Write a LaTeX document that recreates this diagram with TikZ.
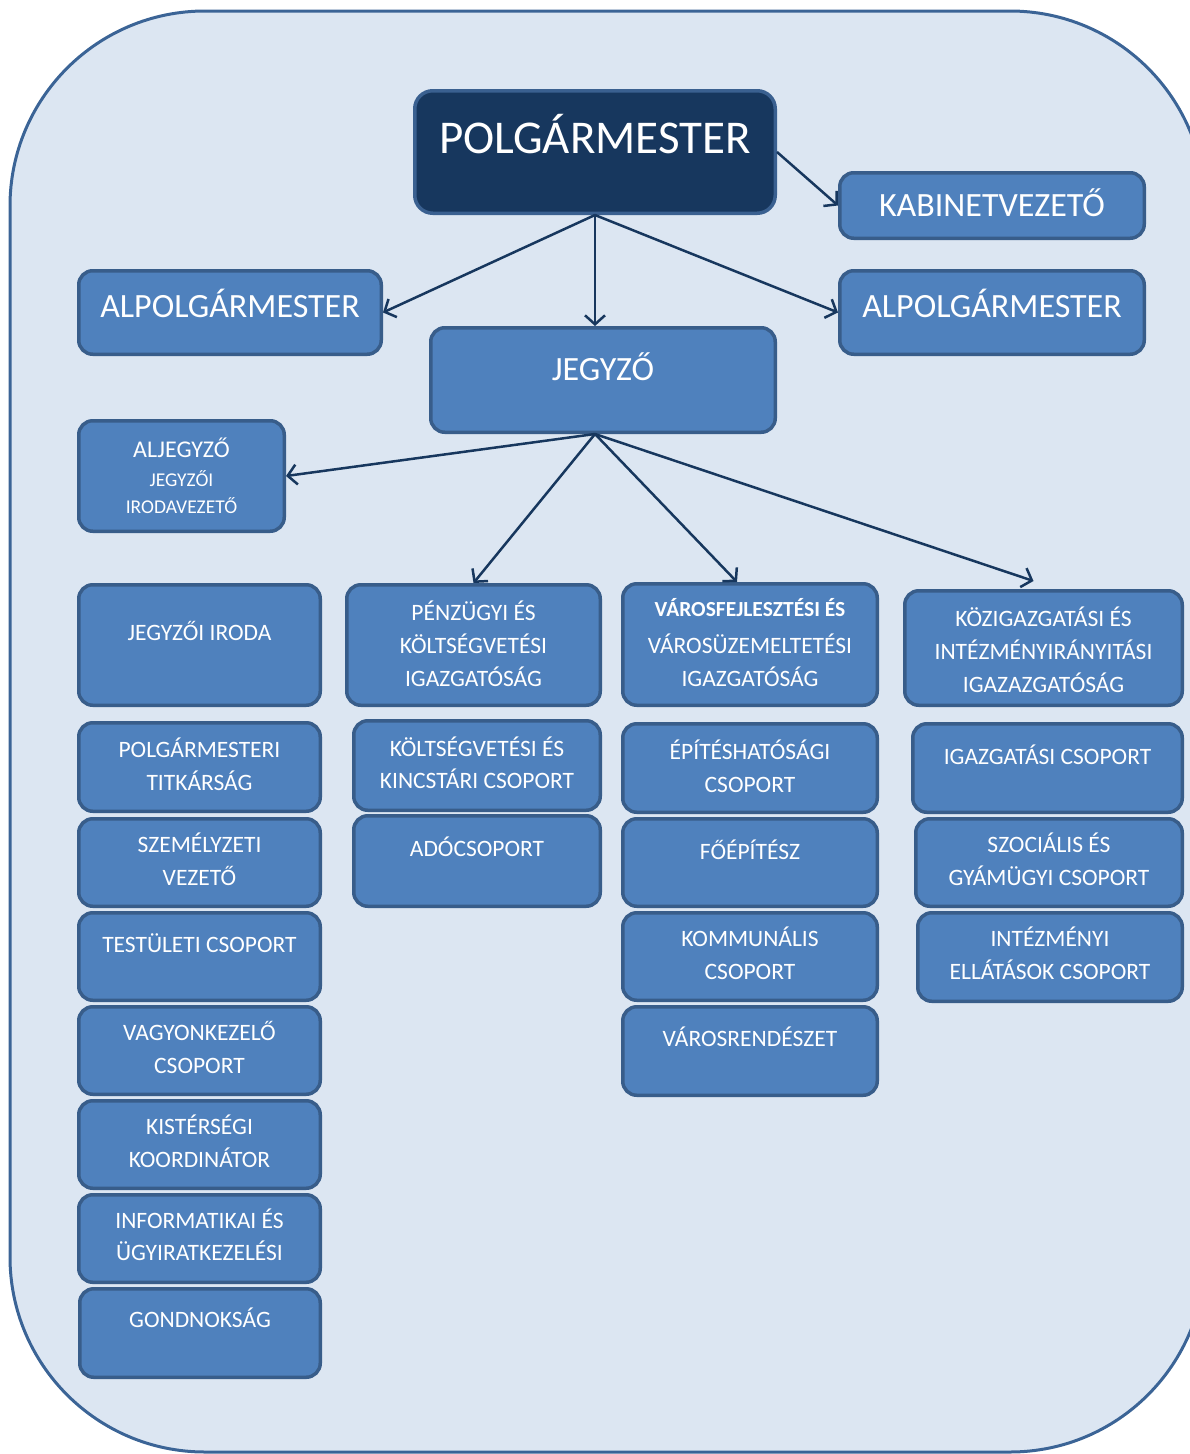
\documentclass[tikz,border=0pt]{standalone}
\usepackage{fontspec}
\setmainfont{Carlito}
\usetikzlibrary{arrows.meta}
\definecolor{bgfill}{HTML}{DCE6F2}
\definecolor{bgline}{HTML}{3B6496}
\definecolor{boxfill}{HTML}{4F81BD}
\definecolor{boxline}{HTML}{385D8A}
\definecolor{bossfill}{HTML}{17375E}
\definecolor{bossline}{HTML}{3A6090}
\definecolor{arrowc}{HTML}{17375E}
\newcommand\fsHuge{\fontsize{47}{50}\selectfont}
\newcommand\fsBig{\fontsize{34}{38}\selectfont}
\newcommand\fsMid{\fontsize{24}{28}\selectfont}
\newcommand\fsSmall{\fontsize{19.5}{23}\selectfont}
\newcommand\fsBold{\fontsize{21.5}{25}\selectfont\bfseries}
\tikzset{
  bgshape/.style={draw=bgline, fill=bgfill, line width=3pt, rounded corners=195pt},
  orgbox/.style={rectangle, draw=boxline, fill=boxfill, line width=3.5pt, rounded corners=14pt, inner sep=0pt},
  bossbox/.style={rectangle, draw=bossline, fill=bossfill, line width=3.5pt, rounded corners=18pt, inner sep=0pt},
  txt/.style={text=white, inner sep=0pt, anchor=base, font=\fontsize{23.5}{27}\selectfont},
  arr/.style={draw=arrowc, line width=2.5pt, -{Straight Barb[length=9pt,width=20pt]}}
}
\newcommand\obox[7]{%
  \node[#6, minimum width={#4-#2-3.5}, minimum height={#5-#3-3.5}] (#1) at ({(#2+#4)/2},{(#3+#5)/2}) {};
  \foreach \lyy/\ltxt [count=\li] in {#7} {\node[txt] (#1-\li) at ({(#2+#4)/2},\lyy) {\ltxt};}%
}
\begin{document}
\begin{tikzpicture}[x=1pt,y=-1pt]
\useasboundingbox (0,0) rectangle (1190,1454);
\draw[bgshape] (10,11) rectangle (1205,1452);

\obox{P}{413}{89}{777}{215}{bossbox}{153/{\fsHuge POLGÁRMESTER}}
\obox{K}{838}{171}{1146}{240}{orgbox}{216/{\fsBig KABINETVEZETŐ}}
\obox{AL}{77}{269}{383}{356}{orgbox}{317/{\fsBig ALPOLGÁRMESTER}}
\obox{AR}{838}{269}{1146}{356}{orgbox}{317/{\fsBig ALPOLGÁRMESTER}}
\obox{J}{429}{326}{777}{434}{orgbox}{380/{\fsBig JEGYZŐ}}
\obox{AJ}{77}{419}{286}{533}{orgbox}{457/{\fsMid ALJEGYZŐ},486/{\fsSmall JEGYZŐI},513/{\fsSmall IRODAVEZETŐ}}

\obox{JI}{77}{583}{322}{707}{orgbox}{640/{JEGYZŐI IRODA}}
\obox{PZ}{345}{583}{602}{707}{orgbox}{620/{PÉNZÜGYI ÉS},653/{KÖLTSÉGVETÉSI},686/{IGAZGATÓSÁG}}
\obox{VF}{621}{582}{879}{707}{orgbox}{616/{\fsBold VÁROSFEJLESZTÉSI ÉS},653/{VÁROSÜZEMELTETÉSI},686/{IGAZGATÓSÁG}}
\obox{KZ}{903}{589}{1184}{707}{orgbox}{626/{KÖZIGAZGATÁSI ÉS},659/{INTÉZMÉNYIRÁNYITÁSI},692/{IGAZAZGATÓSÁG}}

\obox{L1}{77}{721}{322}{813}{orgbox}{757/{POLGÁRMESTERI},790/{TITKÁRSÁG}}
\obox{L2}{77}{817}{322}{908}{orgbox}{852/{SZEMÉLYZETI},885/{VEZETŐ}}
\obox{L3}{77}{911}{322}{1002}{orgbox}{952/{TESTÜLETI CSOPORT}}
\obox{L4}{77}{1005}{322}{1096}{orgbox}{1040/{VAGYONKEZELŐ},1073/{CSOPORT}}
\obox{L5}{77}{1099}{322}{1190}{orgbox}{1134/{KISTÉRSÉGI},1167/{KOORDINÁTOR}}
\obox{L6}{77}{1193}{322}{1284}{orgbox}{1228/{INFORMATIKAI ÉS},1260/{ÜGYIRATKEZELÉSI}}
\obox{L7}{78}{1287}{322}{1379}{orgbox}{1327/{GONDNOKSÁG}}

\obox{C1}{352}{719}{602}{812}{orgbox}{756/{KÖLTSÉGVETÉSI ÉS},788/{KINCSTÁRI CSOPORT}}
\obox{C2}{352}{814}{602}{908}{orgbox}{856/{ADÓCSOPORT}}

\obox{V1}{621}{722}{879}{814}{orgbox}{759/{ÉPÍTÉSHATÓSÁGI},792/{CSOPORT}}
\obox{V2}{621}{817}{879}{908}{orgbox}{859/{FŐÉPÍTÉSZ}}
\obox{V3}{621}{911}{879}{1002}{orgbox}{946/{KOMMUNÁLIS},979/{CSOPORT}}
\obox{V4}{621}{1005}{879}{1097}{orgbox}{1046/{VÁROSRENDÉSZET}}

\obox{G1}{911}{722}{1184}{814}{orgbox}{764/{IGAZGATÁSI CSOPORT}}
\obox{G2}{914}{817}{1184}{908}{orgbox}{852/{SZOCIÁLIS ÉS},885/{GYÁMÜGYI CSOPORT}}
\obox{G3}{916}{911}{1184}{1003}{orgbox}{946/{INTÉZMÉNYI},979/{ELLÁTÁSOK CSOPORT}}

\draw[arr] (P.south) -- (AL.east);
\draw[arr] (P.south) -- (P.south |- J.north);
\draw[arr] (P.south) -- (AR.west);
\draw[arr] (P.east) -- (K.west);
\coordinate (Jo) at (P.south |- J.south);
\draw[arr] (Jo) -- (AJ.east);
\draw[arr] (Jo) -- (PZ.north);
\draw[arr] (Jo) -- ([xshift=-13pt]VF.north);
\draw[arr] (Jo) -- ([xshift=-10pt,yshift=8pt]KZ.north);
\end{tikzpicture}
\end{document}
